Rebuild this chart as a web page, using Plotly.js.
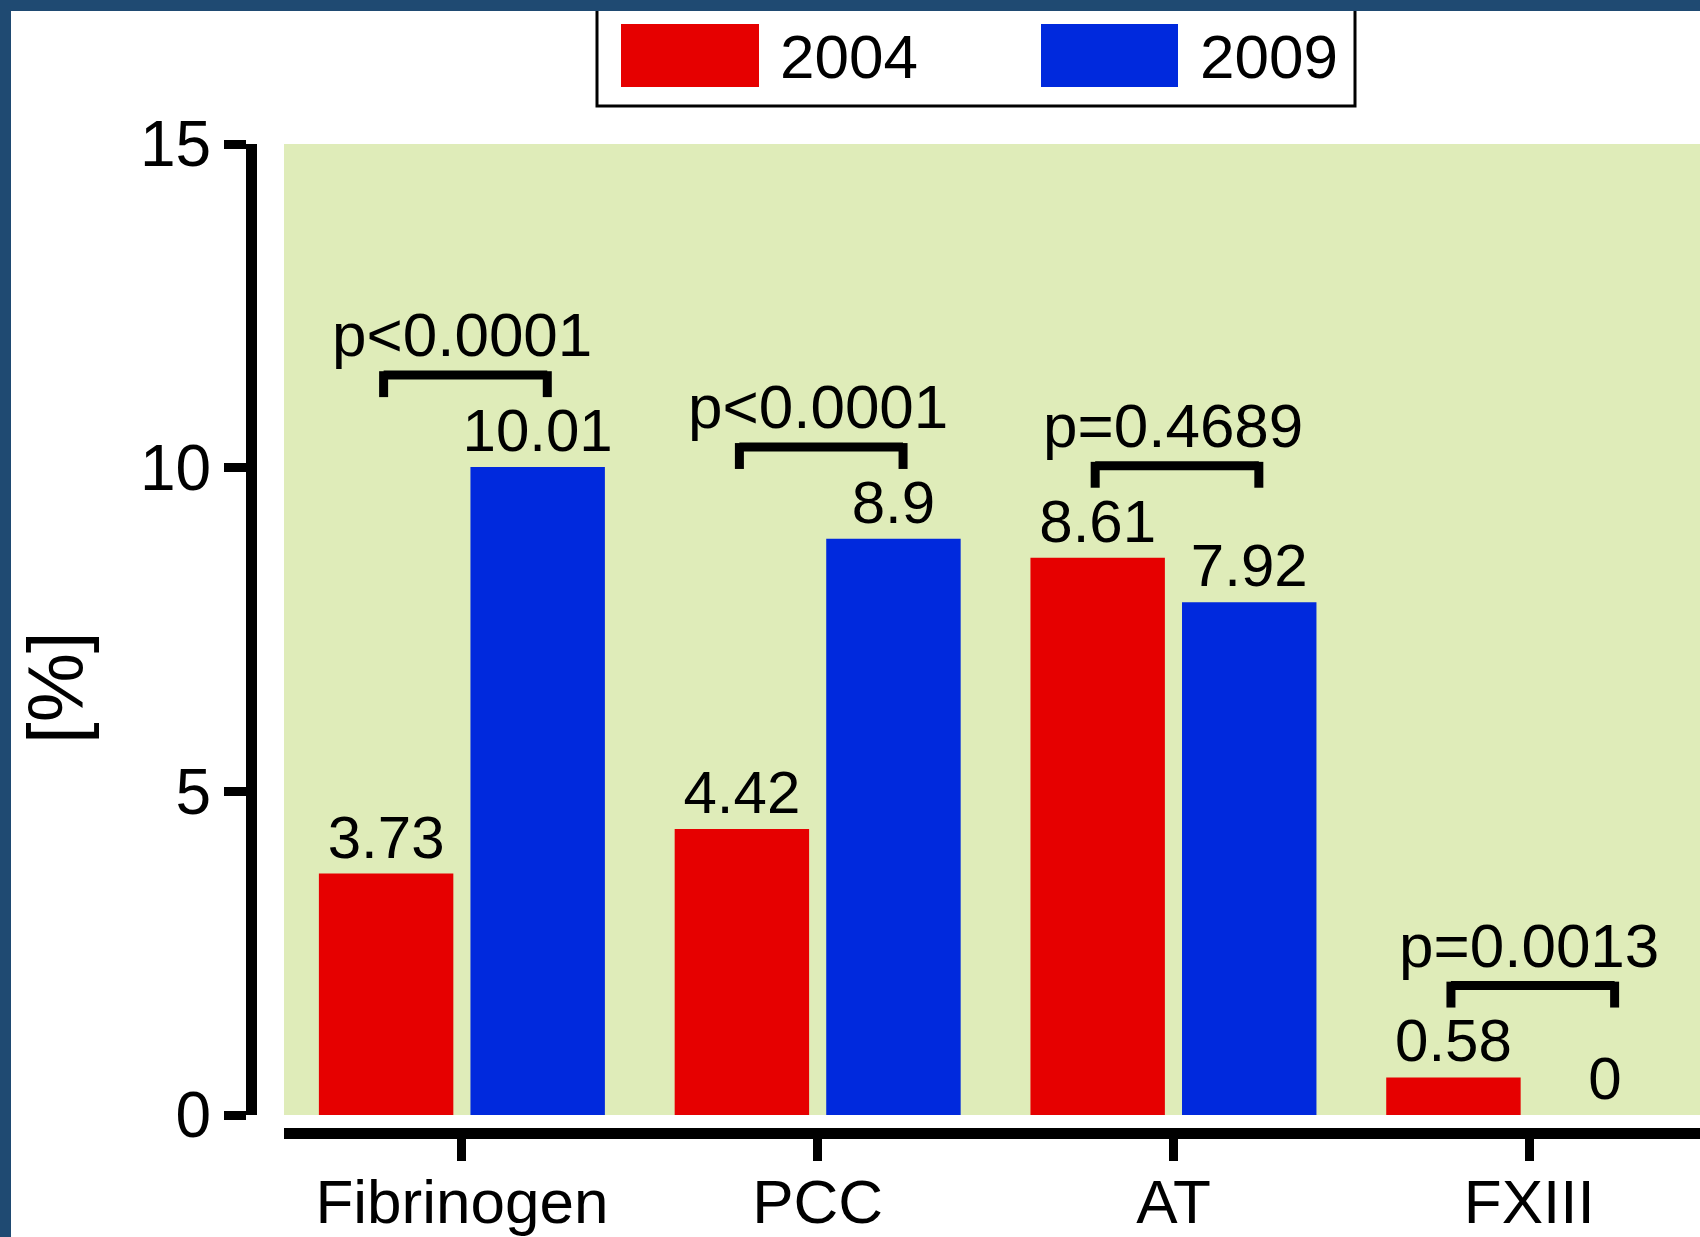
<!DOCTYPE html>
<html>
<head>
<meta charset="utf-8">
<script src="https://cdn.plot.ly/plotly-3.0.1.min.js"></script>
<style>
  html, body { margin: 0; padding: 0; background: #1f4a72; overflow: hidden; }
  #chart { position: absolute; left: 11px; top: 11px; width: 1689px; height: 1226px; background: #ffffff; }
</style>
</head>
<body>
<div id="chart"></div>
<script>
// Share of patients receiving each coagulation factor concentrate [%]
const categories = ["Fibrinogen", "PCC", "AT", "FXIII"];
const seriesNames = ["2004", "2009"];
const values2004 = [3.73, 4.42, 8.61, 0.58];
const values2009 = [10.01, 8.9, 7.92, 0];
const pLabels = ["p<0.0001", "p<0.0001", "p=0.4689", "p=0.0013"];
const yTicks = [0, 5, 10, 15];

const RED = "#e60000";
const BLUE = "#0029dd";
const FONT = "Liberation Sans, Arial, sans-serif";

// figure size (the div sits inside an 11px frame)
const W = 1689, H = 1226, OX = 11, OY = 11;
const px = x => (x - OX) / W;          // page x -> paper x
const py = y => 1 - (y - OY) / H;      // page y -> paper y

const barText = vals => vals.map(v => String(v));

const traces = [
  {
    type: "bar", name: seriesNames[0], x: categories, y: values2004,
    marker: { color: RED }, text: barText(values2004),
    textposition: "outside", cliponaxis: false, constraintext: "none",
    textfont: { family: FONT, size: 60, color: "#000" }, hoverinfo: "skip"
  },
  {
    type: "bar", name: seriesNames[1], x: categories, y: values2009,
    marker: { color: BLUE }, text: barText(values2009),
    textposition: "outside", cliponaxis: false, constraintext: "none",
    textfont: { family: FONT, size: 60, color: "#000" }, hoverinfo: "skip"
  }
];

// significance brackets over each pair of bars
const shapes = [];
const annotations = [];
const BRACKET_GAP = 1.42, LEG = 0.34, LABEL_GAP = 0.62;
categories.forEach((c, i) => {
  const level = Math.max(values2004[i], values2009[i]) + BRACKET_GAP;
  const xl = i - 0.22, xr = i + 0.24;
  const line = { color: "#000", width: 9 };
  shapes.push({ type: "line", xref: "x", yref: "y", x0: xl, x1: xr, y0: level, y1: level, line });
  shapes.push({ type: "line", xref: "x", yref: "y", x0: xl, x1: xl, y0: level + 0.06, y1: level - LEG, line });
  shapes.push({ type: "line", xref: "x", yref: "y", x0: xr, x1: xr, y0: level + 0.06, y1: level - LEG, line });
  annotations.push({
    xref: "x", yref: "y", x: i, y: level + LABEL_GAP, text: pLabels[i],
    showarrow: false, xanchor: "center", yanchor: "middle",
    font: { family: FONT, size: 62, color: "#000" }
  });
});

// legend box with large swatches
shapes.push({
  type: "rect", xref: "paper", yref: "paper",
  x0: px(597), x1: px(1355), y0: py(106), y1: 1.02,
  line: { color: "#000", width: 3 }, fillcolor: "#ffffff", layer: "above"
});
[[621, 759, RED, 778], [1041, 1178, BLUE, 1198]].forEach(([a, b, col, tx], k) => {
  shapes.push({
    type: "rect", xref: "paper", yref: "paper",
    x0: px(a), x1: px(b), y0: py(87), y1: py(24),
    line: { width: 0 }, fillcolor: col, layer: "above"
  });
  annotations.push({
    xref: "paper", yref: "paper", x: px(tx), y: py(56), text: seriesNames[k],
    showarrow: false, xanchor: "left", yanchor: "middle",
    font: { family: FONT, size: 62, color: "#000" }
  });
});

// y axis title
annotations.push({
  xref: "paper", yref: "paper", x: px(56), y: py(688), text: "[%]",
  showarrow: false, textangle: -90, xanchor: "center", yanchor: "middle",
  borderpad: 0,
  font: { family: FONT, size: 78, color: "#000" }
});

const layout = {
  width: W, height: H,
  margin: { l: 0, r: 0, t: 0, b: 0, pad: 0 },
  paper_bgcolor: "#ffffff",
  plot_bgcolor: "#dfecb9",
  showlegend: false,
  barmode: "group", bargap: 0.148, bargroupgap: 0.113,
  font: { family: FONT, color: "#000" },
  xaxis: {
    type: "category", categoryorder: "array", categoryarray: categories,
    range: [-0.5, 3.48], domain: [px(284), 1],
    anchor: "free", position: py(1133),
    showline: true, linewidth: 11, linecolor: "#000",
    ticks: "outside", ticklen: 22, tickwidth: 9, tickcolor: "#000",
    ticklabelstandoff: -12,
    tickfont: { family: FONT, size: 62, color: "#000" },
    showgrid: false, zeroline: false, fixedrange: true
  },
  yaxis: {
    range: [0, 15], domain: [py(1115), py(144)],
    anchor: "free", position: px(251),
    tickmode: "array", tickvals: yTicks, ticktext: yTicks.map(String),
    showline: true, linewidth: 11, linecolor: "#000",
    ticks: "outside", ticklen: 22, tickwidth: 9, tickcolor: "#000",
    tickfont: { family: FONT, size: 64, color: "#000" },
    showgrid: false, zeroline: false, fixedrange: true
  },
  shapes, annotations
};

Plotly.newPlot("chart", traces, layout, { staticPlot: true, displayModeBar: false });
</script>
</body>
</html>
